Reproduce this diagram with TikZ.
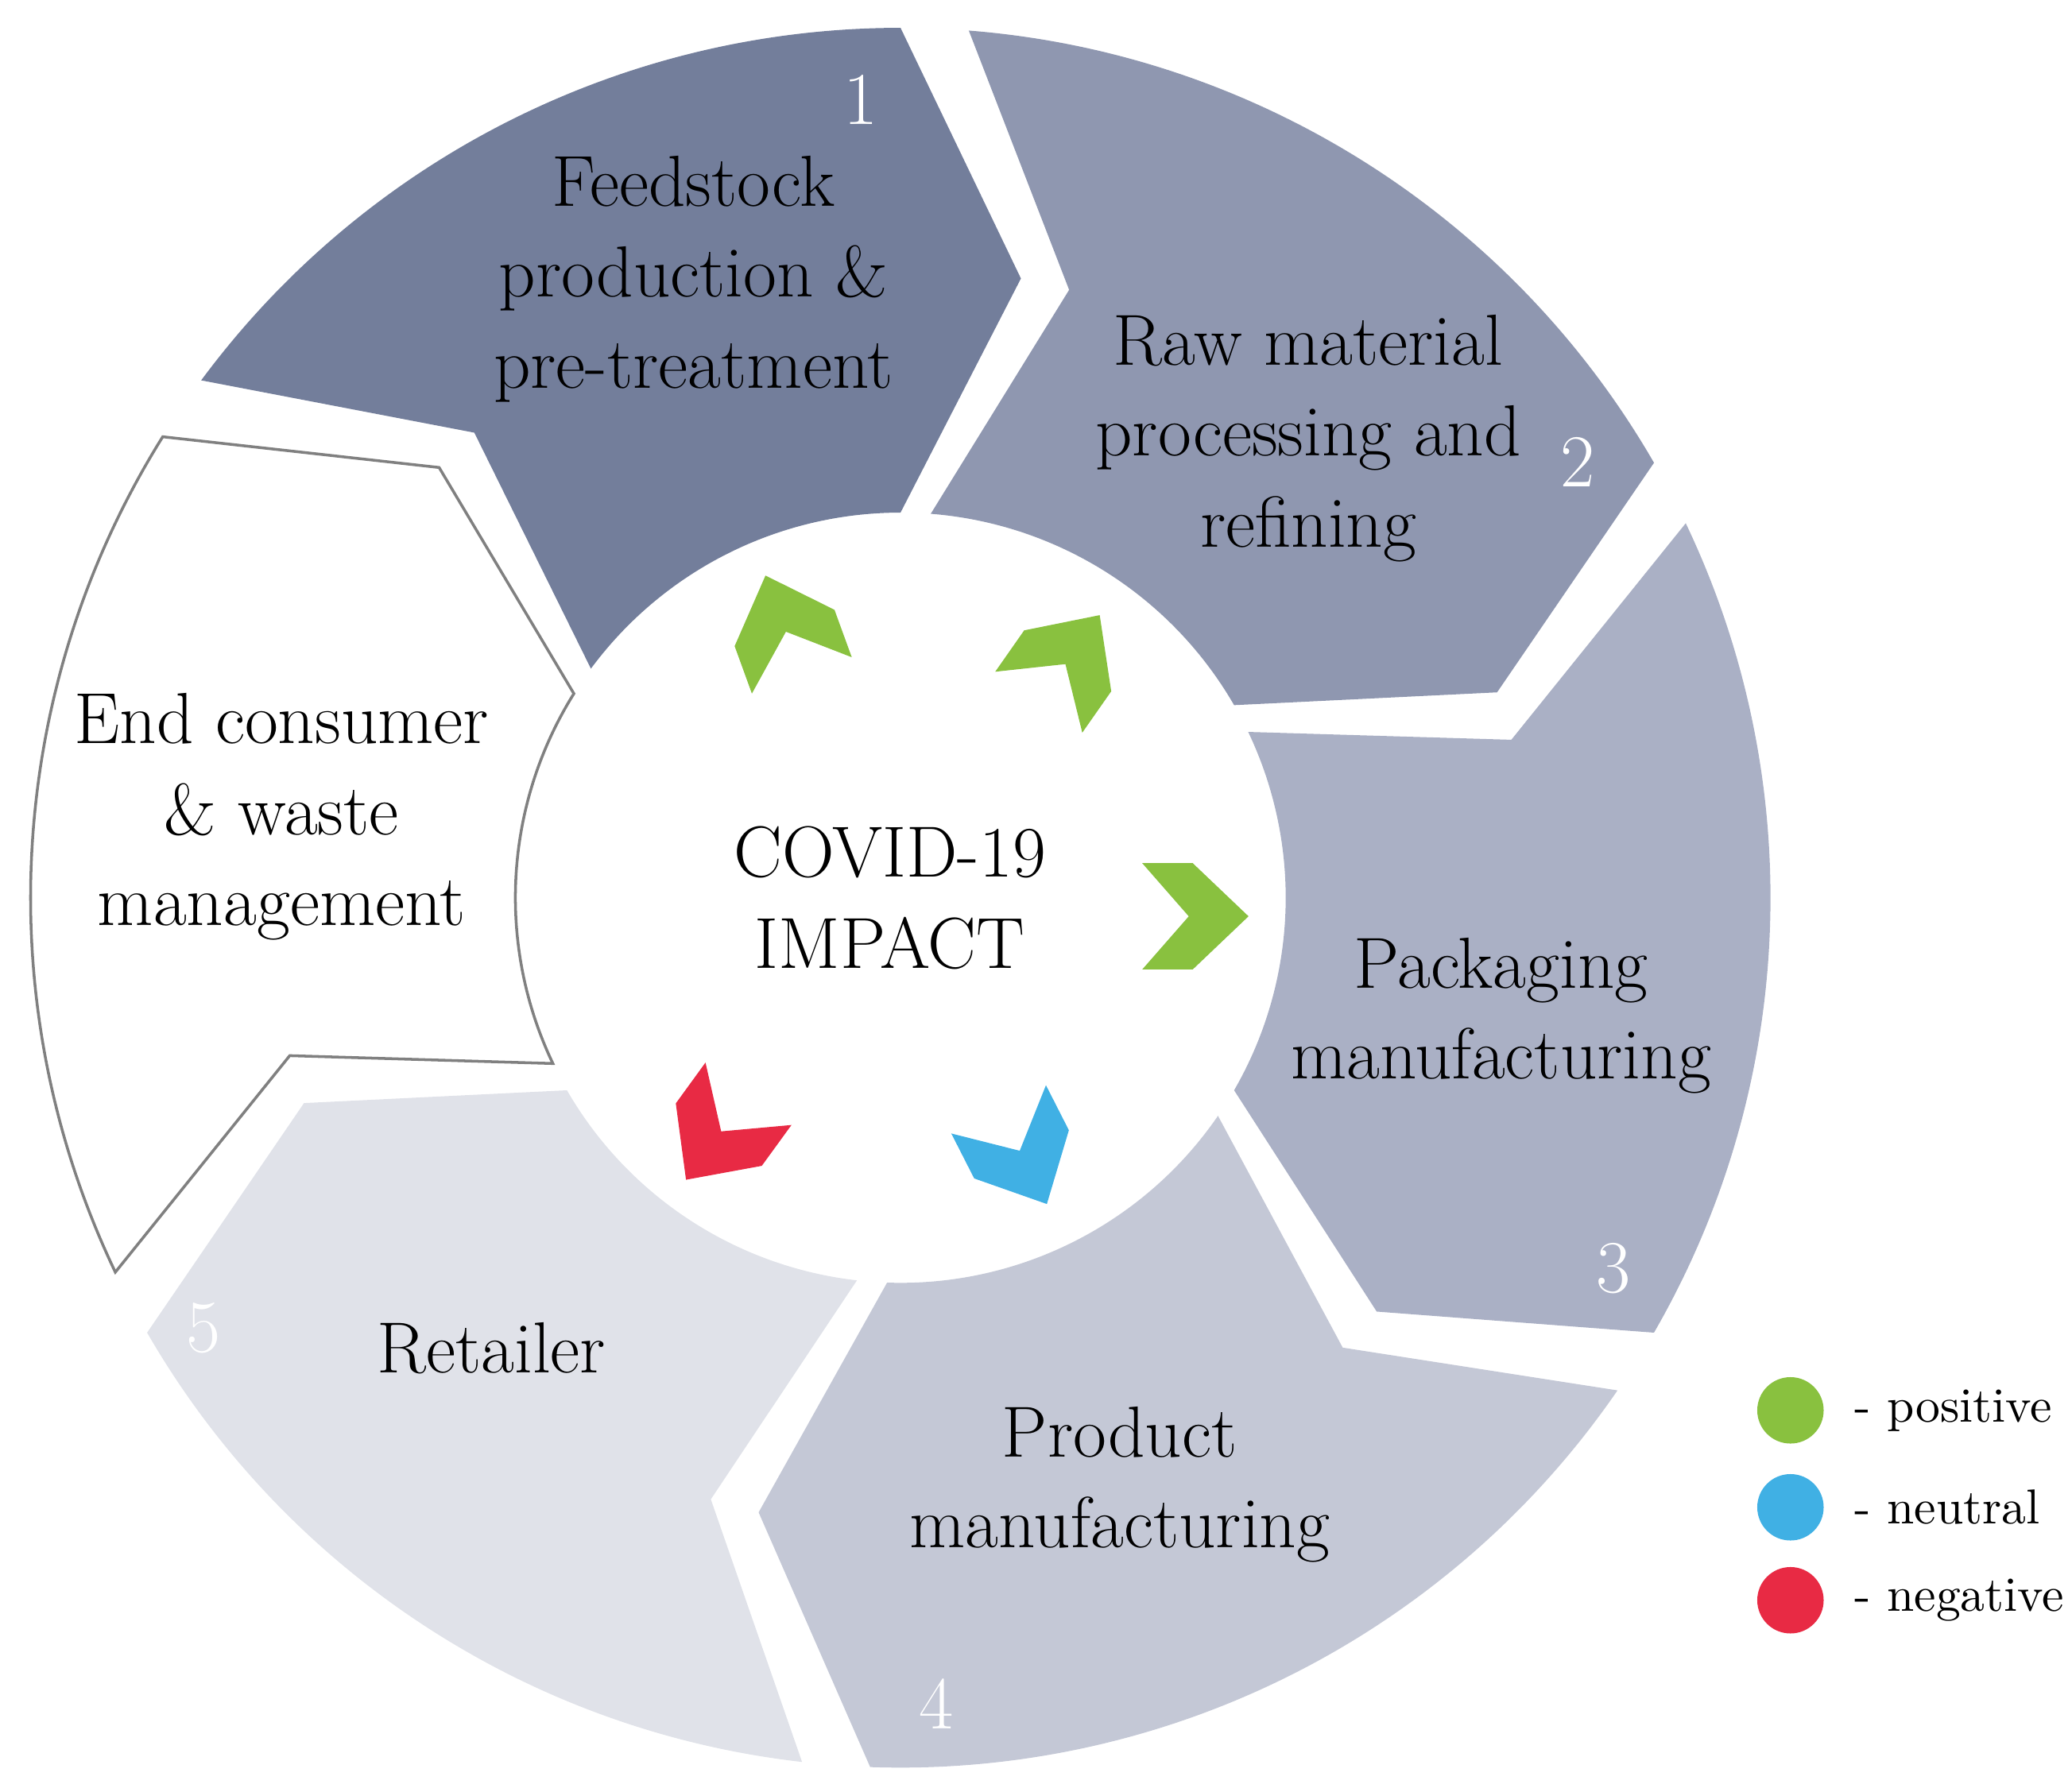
\documentclass[tikz,border=0pt]{standalone}
\begin{document}
\begin{tikzpicture}[
  lbl/.style={align=center,font=\fontsize{15.5}{19.5}\selectfont},
  num/.style={text=white,font=\fontsize{16}{19}\selectfont},
  leg/.style={anchor=west,inner sep=1pt,font=\fontsize{10.5}{13}\selectfont}]
\definecolor{s1}{RGB}{115,126,155}
\definecolor{s2}{RGB}{143,151,176}
\definecolor{s3}{RGB}{170,176,197}
\definecolor{s4}{RGB}{196,200,214}
\definecolor{s5}{RGB}{224,226,233}
\definecolor{gr}{RGB}{137,193,63}
\definecolor{bl}{RGB}{64,176,228}
\definecolor{rd}{RGB}{232,42,68}
\useasboundingbox (0,0) rectangle (15.6,13.46);
\coordinate (C) at (6.78,6.7);
\def\R{6.55}\def\r{2.9}\def\Rm{4.75}\def\g{4.5}\def\d{11}
\newcommand\seg[3]{%
 \path[shift={(C)},#3] (#1-\g:\R) arc[start angle=#1-\g,end angle=#2,radius=\R] -- (#2-\d:\Rm) -- (#2:\r)
   arc[start angle=#2,end angle=#1-\g,radius=\r] -- (#1-\g-\d:\Rm) -- cycle;}
\seg{148}{90}{fill=s1}
\seg{90}{30}{fill=s2}
\seg{30}{-30}{fill=s3}
\seg{-30}{-92}{fill=s4}
\seg{-92}{-150}{fill=s5}
\seg{210}{148}{fill=white,draw=gray,line width=0.6pt}
\newcommand\chev[3]{\fill[#3,shift={#1},rotate=#2] (-0.4,0.4) -- (-0.02,0.4) -- (0.4,0) -- (-0.02,-0.4) -- (-0.4,-0.4) -- (-0.05,0) -- cycle;}
\chev{(5.9,8.75)}{110}{gr}
\chev{(8.05,8.5)}{55}{gr}
\chev{(9.0,6.56)}{0}{gr}
\chev{(7.7,4.75)}{-63}{bl}
\chev{(5.4,4.9)}{-126}{rd}
\node[lbl] (t1) at (5.22,11.36) {Feedstock\\production \&\\pre-treatment};
\node[lbl] (t2) at (9.85,10.16) {Raw material\\processing and\\refining};
\node[lbl] (t3) at (11.3,5.81) {Packaging\\manufacturing};
\node[lbl] (t4) at (8.43,2.28) {Product\\manufacturing};
\node[lbl] (t5) at (3.7,3.31) {Retailer};
\node[lbl] (t6) at (2.12,7.31) {End consumer\\\& waste\\management};
\node[lbl] (tc) at (6.7,6.7) {COVID-19\\IMPACT};
\node[num] (n1) at (6.48,12.71) {1};
\node[num] (n2) at (11.88,9.98) {2};
\node[num] (n3) at (12.15,3.91) {3};
\node[num] (n4) at (7.05,0.63) {4};
\node[num] (n5) at (1.53,3.46) {5};
\fill[gr] (13.48,2.84) circle (0.25);
\fill[bl] (13.48,2.11) circle (0.25);
\fill[rd] (13.48,1.41) circle (0.25);
\node[leg] (l1) at (13.92,2.84) {- positive};
\node[leg] (l2) at (13.92,2.11) {- neutral};
\node[leg] (l3) at (13.92,1.41) {- negative};
\end{tikzpicture}
\end{document}
